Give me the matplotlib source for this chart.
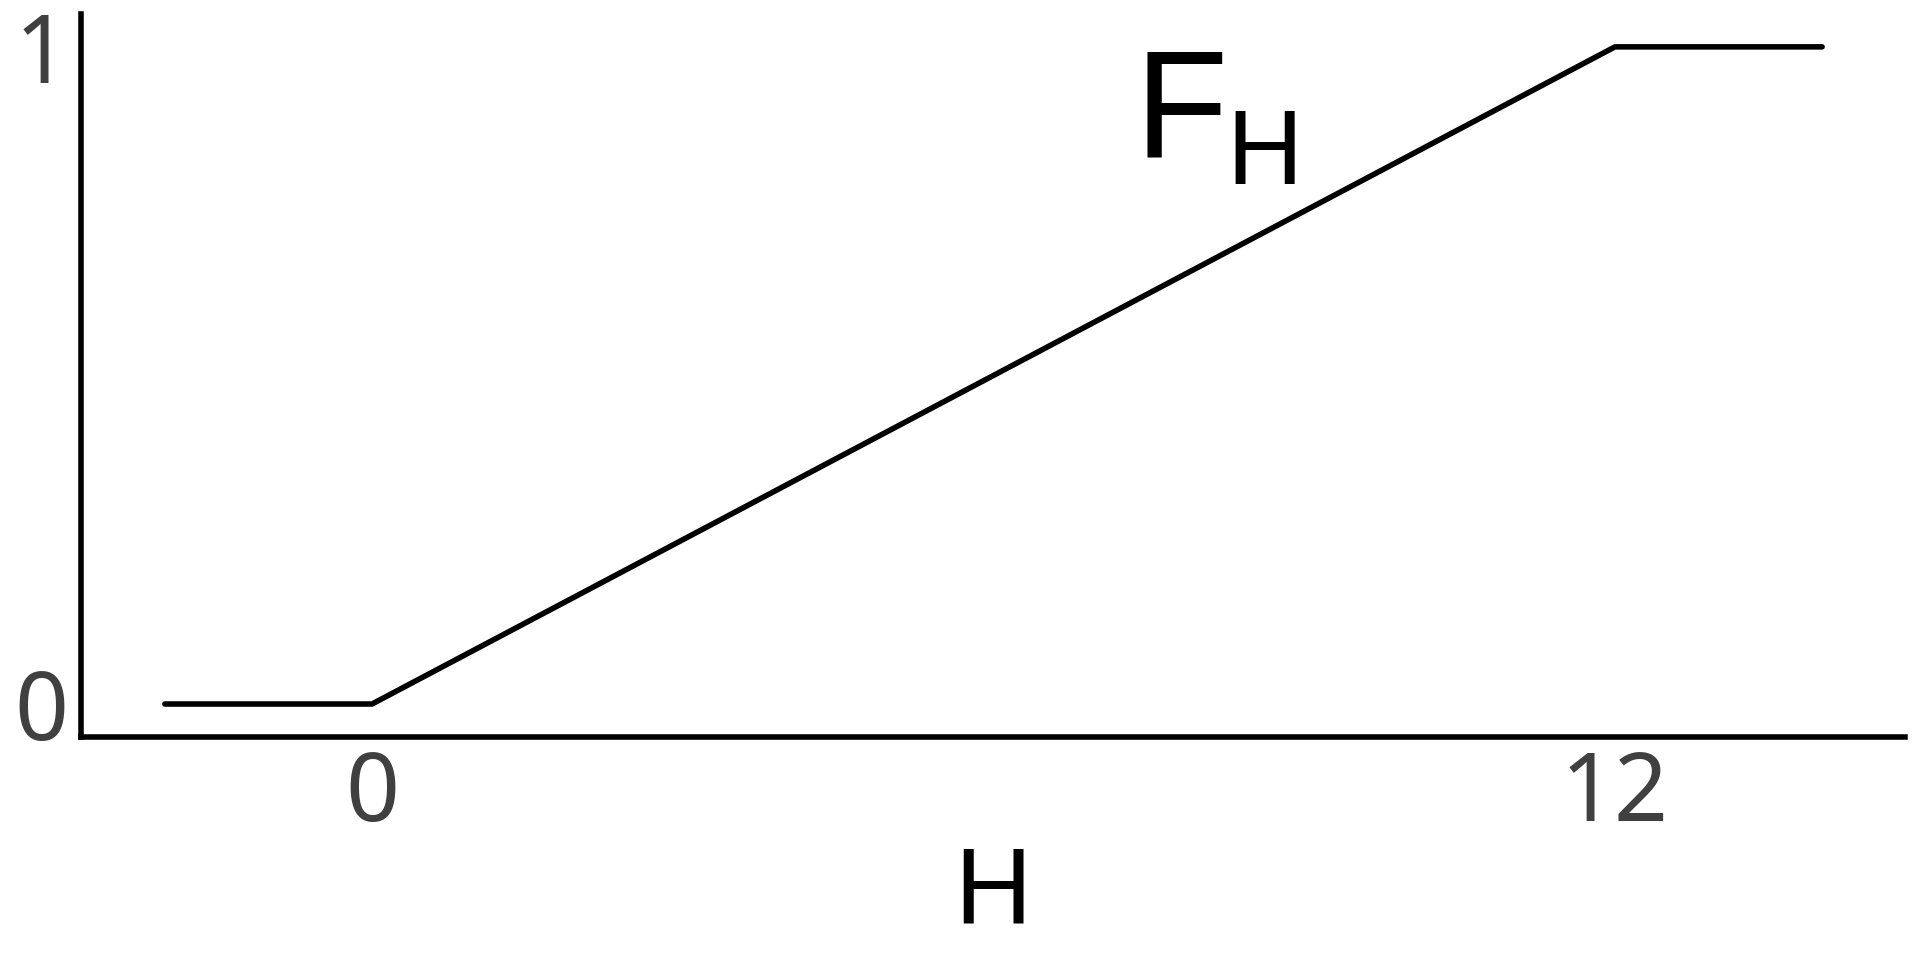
import matplotlib
matplotlib.use("Agg")
import matplotlib.pyplot as plt

plt.rcParams['font.family'] = ['Liberation Sans', 'DejaVu Sans']

# piecewise membership curve F_H(H)
h_vals = [-2, 0, 12, 14]
f_vals = [0, 0, 1, 1]

xtick_pos = [0, 12]
xtick_labels = ['0', '12']
ytick_pos = [0, 1]
ytick_labels = ['0', '1']

fig = plt.figure(figsize=(19.2, 9.6), dpi=100)
ax = fig.add_axes([81 / 1920, 1 - 737 / 960, (1905 - 81) / 1920, (737 - 14) / 960])

ax.plot(h_vals, f_vals, color='black', lw=4, solid_capstyle='round',
        solid_joinstyle='round')

ax.set_xlim(-2.81, 14.80)
ax.set_ylim(-0.0502, 1.050)

for s in ['top', 'right']:
    ax.spines[s].set_visible(False)
for s in ['left', 'bottom']:
    ax.spines[s].set_linewidth(4)
    ax.spines[s].set_color('black')

ax.set_xticks(xtick_pos)
ax.set_xticklabels(xtick_labels, family='Noto Sans')
ax.set_yticks(ytick_pos)
ax.set_yticklabels(ytick_labels, family='Noto Sans')
ax.tick_params(axis='both', length=0, labelsize=68, colors='#404040')
ax.tick_params(axis='x', pad=8.5)
ax.tick_params(axis='y', pad=9)

ax.set_xlabel('H', fontsize=77, color='black', va='baseline')
ax.xaxis.set_label_coords(0.5, -0.257)

# F_H label
ax.text(7.36, 0.8326, 'F', fontsize=110, ha='left', va='baseline', color='black')
ax.text(8.25, 0.7915, 'H', fontsize=76, ha='left', va='baseline', color='black')

fig.savefig('out.png', dpi=100, facecolor='white')
